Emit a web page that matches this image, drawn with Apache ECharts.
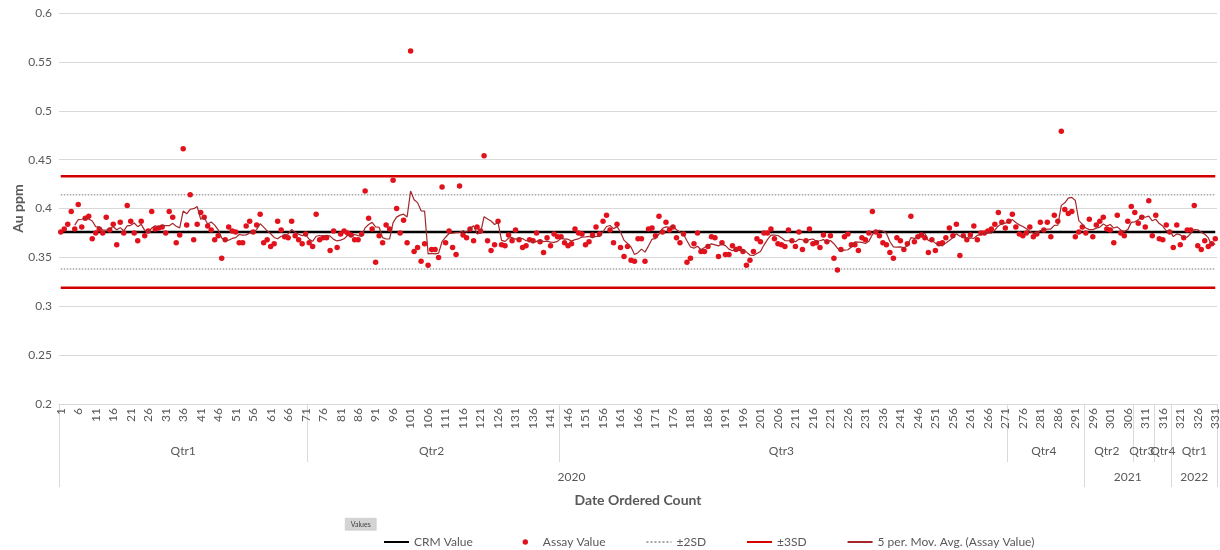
<!DOCTYPE html>
<html>
<head>
<meta charset="utf-8">
<script src="https://cdn.jsdelivr.net/npm/echarts@6/dist/echarts.min.js"></script>
<style>
  html, body { margin: 0; padding: 0; background: #ffffff; }
  #chart { width: 1220px; height: 550px; }
</style>
</head>
<body>
<div id="chart"></div>
<script>
// Au assay results for the certified reference material, in order of date
const assayValues = [
  0.376,0.379,0.384,0.397,0.379,0.404,0.381,0.390,0.392,0.369,
  0.375,0.379,0.375,0.391,0.378,0.384,0.363,0.386,0.375,0.403,
  0.387,0.375,0.367,0.387,0.372,0.377,0.397,0.379,0.380,0.381,
  0.375,0.397,0.391,0.365,0.373,0.461,0.383,0.414,0.368,0.384,
  0.396,0.391,0.382,0.378,0.368,0.372,0.349,0.368,0.381,0.377,
  0.376,0.365,0.365,0.382,0.387,0.376,0.383,0.394,0.365,0.368,
  0.361,0.364,0.387,0.378,0.371,0.370,0.387,0.372,0.368,0.364,
  0.374,0.365,0.361,0.394,0.368,0.370,0.370,0.357,0.377,0.360,
  0.374,0.377,0.375,0.373,0.368,0.368,0.374,0.418,0.390,0.379,
  0.345,0.372,0.365,0.383,0.379,0.429,0.400,0.375,0.388,0.365,
  0.561,0.356,0.360,0.346,0.364,0.342,0.358,0.358,0.350,0.422,
  0.365,0.377,0.360,0.353,0.423,0.373,0.370,0.379,0.367,0.381,
  0.377,0.454,0.367,0.357,0.363,0.387,0.363,0.362,0.373,0.367,
  0.378,0.368,0.360,0.362,0.368,0.367,0.375,0.366,0.355,0.370,
  0.362,0.374,0.371,0.371,0.365,0.362,0.364,0.379,0.375,0.374,
  0.363,0.366,0.373,0.381,0.374,0.387,0.393,0.378,0.365,0.384,
  0.360,0.351,0.361,0.347,0.346,0.369,0.369,0.346,0.379,0.380,
  0.372,0.392,0.376,0.386,0.378,0.381,0.370,0.365,0.374,0.345,
  0.349,0.364,0.375,0.356,0.356,0.361,0.371,0.370,0.351,0.365,
  0.353,0.353,0.362,0.358,0.359,0.356,0.342,0.347,0.356,0.369,
  0.366,0.375,0.375,0.379,0.369,0.364,0.363,0.361,0.378,0.367,
  0.361,0.376,0.358,0.367,0.379,0.364,0.365,0.360,0.373,0.366,
  0.372,0.349,0.337,0.358,0.371,0.374,0.363,0.363,0.357,0.370,
  0.368,0.375,0.397,0.376,0.372,0.365,0.363,0.355,0.349,0.370,
  0.367,0.358,0.364,0.392,0.366,0.371,0.373,0.370,0.355,0.368,
  0.357,0.364,0.365,0.370,0.380,0.372,0.384,0.352,0.372,0.368,
  0.373,0.382,0.368,0.375,0.375,0.377,0.379,0.384,0.396,0.386,
  0.380,0.387,0.394,0.381,0.374,0.372,0.375,0.381,0.371,0.374,
  0.386,0.378,0.386,0.371,0.393,0.387,0.479,0.399,0.395,0.397,
  0.371,0.376,0.381,0.375,0.389,0.371,0.383,0.387,0.391,0.379,
  0.378,0.365,0.393,0.375,0.372,0.387,0.402,0.396,0.385,0.391,
  0.381,0.408,0.372,0.393,0.369,0.368,0.383,0.376,0.360,0.383,
  0.363,0.370,0.378,0.378,0.403,0.362,0.358,0.367,0.361,0.364,
  0.369
];

// Certified value and standard deviation of the reference material
const crmValue = 0.376;
const crmSD = 0.019;

// Date ordered count (category labels)
const orderCounts = assayValues.map((_, i) => String(i + 1));

// Quarter and year groups, as 1-based ranges of the date ordered count
const quarterGroups = [
  { label: 'Qtr1', start: 1,   end: 71  },
  { label: 'Qtr2', start: 72,  end: 143 },
  { label: 'Qtr3', start: 144, end: 271 },
  { label: 'Qtr4', start: 272, end: 293 },
  { label: 'Qtr2', start: 294, end: 307 },
  { label: 'Qtr3', start: 308, end: 313 },
  { label: 'Qtr4', start: 314, end: 318 },
  { label: 'Qtr1', start: 319, end: 331 }
];
const yearGroups = [
  { label: '2020', start: 1,   end: 293 },
  { label: '2021', start: 294, end: 318 },
  { label: '2022', start: 319, end: 331 }
];

// Value axis range
const yMin = 0.2, yMax = 0.6, yStep = 0.05;

// Control lines and trend
const constantLine = v => orderCounts.map(() => v);
const movingAverage = assayValues.map((v, i) => {
  if (i < 4) return null;
  let s = 0;
  for (let k = i - 4; k <= i; k++) s += assayValues[k];
  return s / 5;
});

function groupLookup(groups) {
  const starts = new Set(groups.map(g => g.start - 1));
  const mids = new Map(groups.map(g => [Math.floor((g.start + g.end) / 2) - 1, g.label]));
  return { starts, mids };
}
const qLook = groupLookup(quarterGroups);
const yLook = groupLookup(yearGroups);

const FONT = 'Lato';
const TXT = '#595959';
const GRID_C = '#d9d9d9';

const chart = echarts.init(document.getElementById('chart'), null, { renderer: 'canvas' });

const groupAxis = (look, tickLen, labelMargin) => ({
  type: 'category',
  gridIndex: 0,
  position: 'bottom',
  data: orderCounts,
  boundaryGap: true,
  axisLine: { show: false, onZero: false },
  axisTick: {
    show: true,
    length: tickLen,
    interval: idx => look.starts.has(idx),
    lineStyle: { color: GRID_C, width: 1 }
  },
  axisLabel: {
    show: true,
    interval: idx => look.mids.has(idx),
    formatter: (val, idx) => look.mids.get(idx) || '',
    margin: labelMargin,
    fontFamily: FONT,
    fontSize: 12,
    color: TXT
  },
  splitLine: { show: false },
  silent: true
});

// legend entries for plain lines: hide the marker drawn on the line icon
const lineOnly = { itemStyle: { opacity: 0 } };

chart.setOption({
  animation: false,
  backgroundColor: '#ffffff',
  textStyle: { fontFamily: FONT },
  grid: {
    left: 59, right: 3, top: 13, bottom: 146,
    containLabel: false,
    outerBoundsMode: 'none'
  },
  xAxis: [
    {
      type: 'category',
      data: orderCounts,
      boundaryGap: true,
      position: 'bottom',
      axisLine: { show: true, onZero: false, lineStyle: { color: GRID_C, width: 1 } },
      axisTick: { show: false },
      axisLabel: {
        interval: 4,
        rotate: 90,
        margin: 4,
        fontFamily: FONT,
        fontSize: 12,
        color: TXT
      },
      name: 'Date Ordered Count',
      nameLocation: 'middle',
      nameGap: 89,
      nameMoveOverlap: false,
      nameTextStyle: { fontFamily: FONT, fontSize: 14, fontWeight: 'bold', color: TXT }
    },
    groupAxis(qLook, 58, 41),
    groupAxis(yLook, 83, 67)
  ],
  yAxis: {
    type: 'value',
    min: yMin,
    max: yMax,
    interval: yStep,
    axisLine: { show: false },
    axisTick: { show: false },
    axisLabel: { margin: 7, fontFamily: FONT, fontSize: 12, color: TXT },
    splitLine: { lineStyle: { color: GRID_C, width: 1 } },
    name: 'Au ppm',
    nameLocation: 'middle',
    nameGap: 34,
    nameMoveOverlap: false,
    nameTextStyle: { fontFamily: FONT, fontSize: 14, fontWeight: 'bold', color: TXT }
  },
  legend: {
    left: 378,
    top: 530,
    itemWidth: 25,
    itemHeight: 14,
    itemGap: 40,
    textStyle: { fontFamily: FONT, fontSize: 12, color: TXT },
    data: [
      Object.assign({ name: 'CRM Value' }, lineOnly),
      { name: 'Assay Value', icon: 'path://M0,0M25,14M12.5,4.3A2.7,2.7,0,1,1,12.5,9.7A2.7,2.7,0,1,1,12.5,4.3Z' },
      Object.assign({ name: '±2SD' }, lineOnly),
      Object.assign({ name: '±3SD' }, lineOnly),
      Object.assign({ name: '5 per. Mov. Avg. (Assay Value)' }, lineOnly)
    ]
  },
  graphic: [
    {
      type: 'group', left: 345, top: 518,
      children: [
        { type: 'rect', shape: { x: 0, y: 0, width: 31, height: 12 },
          style: { fill: '#d4d4d4', stroke: '#bfbfbf', lineWidth: 0.5 } },
        { type: 'text', x: 15.5, y: 6,
          style: { text: 'Values', fontSize: 7, fontFamily: FONT, fill: '#404040',
                   align: 'center', verticalAlign: 'middle' } }
      ]
    }
  ],
  series: [
    {
      name: 'CRM Value', type: 'line', data: constantLine(crmValue),
      symbol: 'none', lineStyle: { color: '#000000', width: 2.5 }, itemStyle: { color: '#000000' },
      z: 3, silent: true
    },
    {
      name: '±2SD', type: 'line', data: constantLine(crmValue + 2 * crmSD),
      symbol: 'none', lineStyle: { color: '#a6a6a6', width: 1.5, type: 'dotted' }, itemStyle: { color: '#a6a6a6' },
      z: 2, silent: true
    },
    {
      name: '±2SD', type: 'line', data: constantLine(crmValue - 2 * crmSD),
      symbol: 'none', lineStyle: { color: '#a6a6a6', width: 1.5, type: 'dotted' }, itemStyle: { color: '#a6a6a6' },
      z: 2, silent: true
    },
    {
      name: '±3SD', type: 'line', data: constantLine(crmValue + 3 * crmSD),
      symbol: 'none', lineStyle: { color: '#d40000', width: 2.5 }, itemStyle: { color: '#d40000' },
      z: 2, silent: true
    },
    {
      name: '±3SD', type: 'line', data: constantLine(crmValue - 3 * crmSD),
      symbol: 'none', lineStyle: { color: '#d40000', width: 2.5 }, itemStyle: { color: '#d40000' },
      z: 2, silent: true
    },
    {
      name: 'Assay Value', type: 'scatter', data: assayValues,
      symbol: 'circle', symbolSize: 5.5,
      itemStyle: { color: '#e2121c', opacity: 1 },
      z: 4
    },
    {
      name: '5 per. Mov. Avg. (Assay Value)', type: 'line', data: movingAverage,
      symbol: 'none', connectNulls: false,
      lineStyle: { color: '#a3272b', width: 1.2 }, itemStyle: { color: '#a3272b' },
      z: 5, silent: true
    }
  ]
});
</script>
</body>
</html>
